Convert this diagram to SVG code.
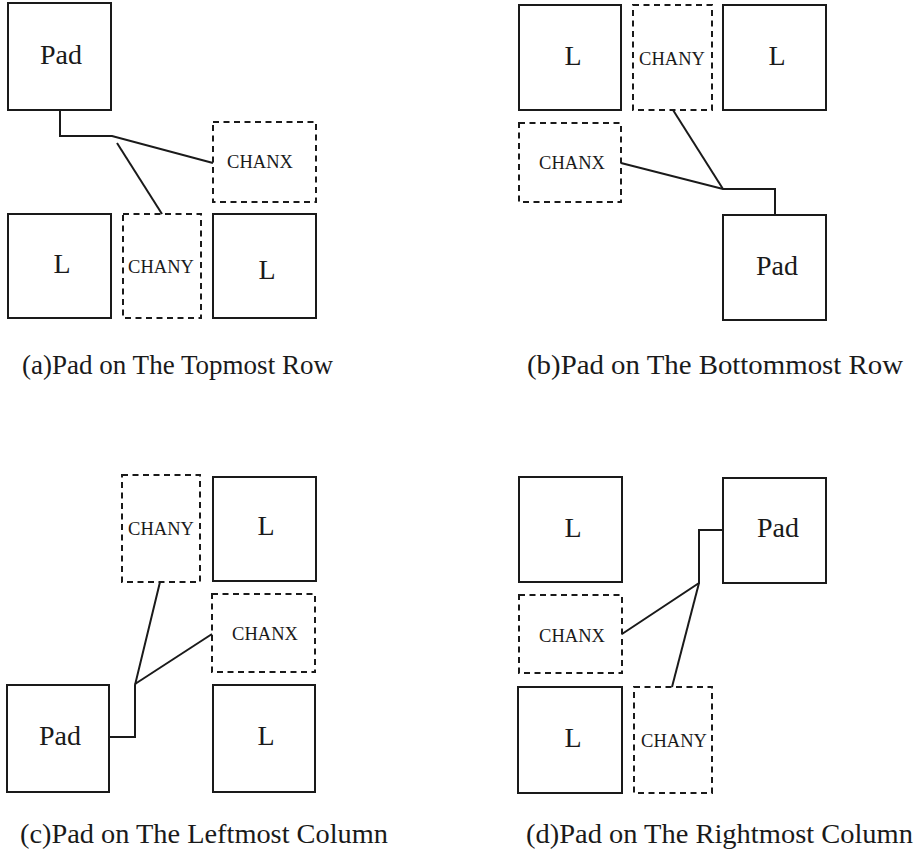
<svg xmlns="http://www.w3.org/2000/svg" width="916" height="861" viewBox="0 0 916 861">
  <style>
    .blk { fill: #ffffff; stroke: #1a1a1a; stroke-width: 2; }
    .chan { fill: none; stroke: #1a1a1a; stroke-width: 2; stroke-dasharray: 6 4.5; }
    .wire { fill: none; stroke: #1a1a1a; stroke-width: 2; stroke-linejoin: miter; }
    .big { font-family: "Liberation Serif", "Times New Roman", serif; font-size: 28px; fill: #1a1a1a; text-anchor: middle; }
    .small { font-family: "Liberation Serif", "Times New Roman", serif; font-size: 18.5px; fill: #1a1a1a; text-anchor: middle; }
    .cap { font-family: "Liberation Serif", "Times New Roman", serif; font-size: 28px; fill: #1a1a1a; }
  </style>
  <rect width="916" height="861" fill="#ffffff"/>

  <!-- (a) pad on the topmost row -->
  <g id="a-pad"><rect class="blk" x="8" y="3" width="103" height="107"/><text class="big" x="61" y="64">Pad</text></g>
  <g id="a-chanx"><rect class="chan" x="213" y="122" width="103" height="80"/><text class="small" x="260" y="168">CHANX</text></g>
  <g id="a-l-left"><rect class="blk" x="8" y="214" width="103" height="104"/><text class="big" x="62" y="273">L</text></g>
  <g id="a-chany"><rect class="chan" x="123" y="214" width="78" height="104"/><text class="small" x="161" y="273">CHANY</text></g>
  <g id="a-l-right"><rect class="blk" x="213" y="214" width="103" height="104"/><text class="big" x="267" y="279">L</text></g>

  <!-- (b) pad on the bottommost row -->
  <g id="b-l-left"><rect class="blk" x="519" y="5" width="102" height="105"/><text class="big" x="573" y="65">L</text></g>
  <g id="b-chany"><rect class="chan" x="633" y="5" width="79" height="105"/><text class="small" x="672" y="65">CHANY</text></g>
  <g id="b-l-right"><rect class="blk" x="723" y="5" width="103" height="105"/><text class="big" x="777" y="65">L</text></g>
  <g id="b-chanx"><rect class="chan" x="519" y="123" width="102" height="79"/><text class="small" x="572" y="169">CHANX</text></g>
  <g id="b-pad"><rect class="blk" x="723" y="215" width="103" height="105"/><text class="big" x="777" y="275">Pad</text></g>

  <!-- (c) pad on the leftmost column -->
  <g id="c-chany"><rect class="chan" x="122" y="475" width="78" height="107"/><text class="small" x="161" y="535">CHANY</text></g>
  <g id="c-l-top"><rect class="blk" x="213" y="477" width="103" height="104"/><text class="big" x="266" y="535">L</text></g>
  <g id="c-chanx"><rect class="chan" x="212" y="594" width="103" height="78"/><text class="small" x="265" y="640">CHANX</text></g>
  <g id="c-pad"><rect class="blk" x="7" y="685" width="102" height="107"/><text class="big" x="60" y="745">Pad</text></g>
  <g id="c-l-bottom"><rect class="blk" x="213" y="685" width="102" height="107"/><text class="big" x="266" y="745">L</text></g>

  <!-- (d) pad on the rightmost column -->
  <g id="d-l-top"><rect class="blk" x="519" y="477" width="103" height="105"/><text class="big" x="573" y="537">L</text></g>
  <g id="d-pad"><rect class="blk" x="723" y="478" width="103" height="105"/><text class="big" x="778" y="537">Pad</text></g>
  <g id="d-chanx"><rect class="chan" x="519" y="595" width="103" height="78"/><text class="small" x="572" y="642">CHANX</text></g>
  <g id="d-l-bottom"><rect class="blk" x="518" y="687" width="104" height="106"/><text class="big" x="573" y="747">L</text></g>
  <g id="d-chany"><rect class="chan" x="634" y="687" width="78" height="106"/><text class="small" x="674" y="747">CHANY</text></g>

  <!-- connection wires -->
  <g id="connectors">
    <polyline class="wire" points="60,110 60,136 112,136 213,163"/>
    <line class="wire" x1="117" y1="143" x2="162" y2="214"/>

    <polyline class="wire" points="621,163 723,189 775,189 775,215"/>
    <line class="wire" x1="673" y1="110" x2="723" y2="189"/>

    <polyline class="wire" points="109,737 135,737 135,685 160,582"/>
    <line class="wire" x1="135" y1="684" x2="212" y2="634"/>

    <polyline class="wire" points="723,530 699,530 699,583 622,634"/>
    <line class="wire" x1="699" y1="583" x2="672" y2="687"/>
  </g>

  <!-- captions -->
  <text class="cap" x="22" y="374" textLength="311" lengthAdjust="spacingAndGlyphs">(a)Pad on The Topmost Row</text>
  <text class="cap" x="527" y="374" textLength="376" lengthAdjust="spacingAndGlyphs">(b)Pad on The Bottommost Row</text>
  <text class="cap" x="20" y="843" textLength="368" lengthAdjust="spacingAndGlyphs">(c)Pad on The Leftmost Column</text>
  <text class="cap" x="526" y="843" textLength="387" lengthAdjust="spacingAndGlyphs">(d)Pad on The Rightmost Column</text>
</svg>
